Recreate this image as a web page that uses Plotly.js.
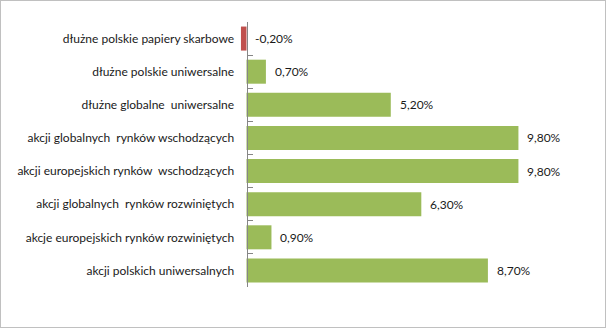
<!DOCTYPE html>
<html>
<head>
<meta charset="utf-8">
<script src="https://cdn.plot.ly/plotly-3.0.1.min.js"></script>
<style>
html,body{margin:0;padding:0;background:#fff;}
#wrap{position:absolute;left:0;top:0;width:606px;height:328px;box-sizing:border-box;border:1px solid #c0c0c0;background:#fff;}
#chart{position:absolute;left:0;top:0;width:604px;height:326px;}
</style>
</head>
<body>
<div id="wrap"><div id="chart"></div></div>
<script>
var categories = [
  "dłużne polskie papiery skarbowe",
  "dłużne polskie uniwersalne",
  "dłużne globalne  uniwersalne",
  "akcji globalnych  rynków wschodzących",
  "akcji europejskich rynków  wschodzących",
  "akcji globalnych  rynków rozwiniętych",
  "akcje europejskich rynków rozwiniętych",
  "akcji polskich uniwersalnych"
];
var values = [-0.20, 0.70, 5.20, 9.80, 9.80, 6.30, 0.90, 8.70];
var positiveColor = "#9BBB59";
var negativeColor = "#C0504D";

function fmt(v){ return v.toFixed(2).replace(".", ",") + "%"; }

var colors = values.map(function(v){ return v < 0 ? negativeColor : positiveColor; });

var trace = {
  type: "bar",
  orientation: "h",
  y: categories,
  x: values,
  marker: {color: colors, line: {width: 0}},
  hoverinfo: "none"
};

var annotations = values.map(function(v, i){
  return {
    x: Math.max(v, 0), y: categories[i], xref: "x", yref: "y",
    text: fmt(v), showarrow: false, xanchor: "left", yanchor: "middle",
    xshift: 7, font: {family: "Lato, 'Open Sans', sans-serif", size: 12, color: "#1a1a1a"}
  };
});

var layout = {
  width: 604, height: 326,
  margin: {l: 235, r: 15, t: 21, b: 40, pad: 0},
  paper_bgcolor: "#ffffff",
  plot_bgcolor: "#ffffff",
  showlegend: false,
  bargap: 0.275,
  font: {family: "Lato, 'Open Sans', sans-serif", size: 12, color: "#1a1a1a"},
  xaxis: {
    range: [-0.378, 12.379],
    showgrid: false, zeroline: false, showticklabels: false, showline: false, ticks: ""
  },
  yaxis: {
    type: "category",
    autorange: "reversed",
    anchor: "free",
    position: 0.0297,
    showline: true, linecolor: "#868686", linewidth: 1,
    ticks: "inside", ticklen: 5, tickcolor: "#868686", tickwidth: 1,
    tickson: "boundaries",
    showgrid: false, zeroline: false,
    ticklabelstandoff: 10,
    tickfont: {family: "Lato, 'Open Sans', sans-serif", size: 12, color: "#1a1a1a"}
  },
  annotations: annotations
};

Plotly.newPlot("chart", [trace], layout, {displayModeBar: false, staticPlot: true});
</script>
</body>
</html>
